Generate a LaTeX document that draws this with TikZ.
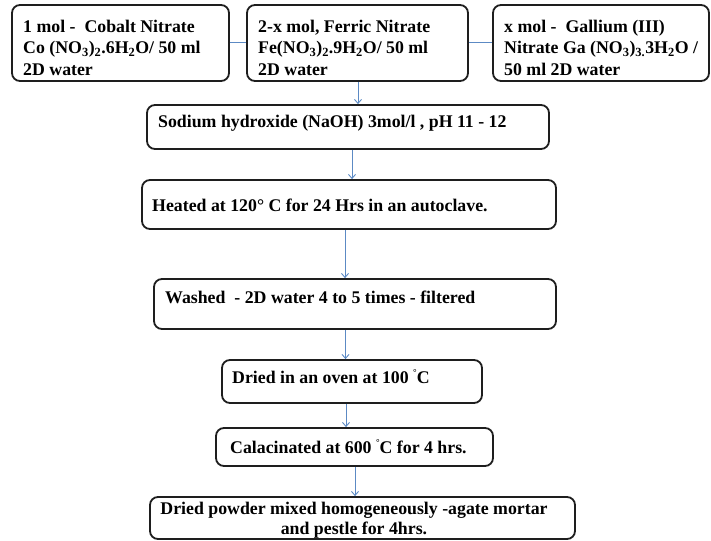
\documentclass[tikz,border=0pt]{standalone}
\usepackage{fontspec}
\setmainfont{Liberation Serif}
\usetikzlibrary{arrows.meta}
\definecolor{conn}{RGB}{92,138,196}
\definecolor{edge}{RGB}{30,30,30}
\newcommand{\smalldeg}{\raisebox{0.42em}{\fontsize{9}{9}\selectfont\textdegree}}
\begin{document}
\begin{tikzpicture}[x=1pt,y=-1pt,
  box/.style={draw=edge,line width=1.8pt,rounded corners=8pt,inner sep=0pt},
  txt/.style={inner sep=0pt,font=\fontsize{17.8}{21.5}\selectfont\bfseries,align=left},
  link/.style={draw=conn,line width=1pt},
  arr/.style={draw=conn,line width=1pt,-{Straight Barb[length=4pt,width=7pt,line width=0.9pt]}}]
\useasboundingbox (0,0) rectangle (711,540);
% boxes
\node[box,minimum width=217pt,minimum height=76pt] (b1) at (120.5,43) {};
\node[box,minimum width=221pt,minimum height=76pt] (b2) at (357.5,43) {};
\node[box,minimum width=216pt,minimum height=76pt] (b3) at (601,43) {};
\node[box,minimum width=402pt,minimum height=44pt] (b4) at (348,127) {};
\node[box,minimum width=414pt,minimum height=49pt] (b5) at (349,204.5) {};
\node[box,minimum width=402pt,minimum height=50pt] (b6) at (355,304) {};
\node[box,minimum width=260pt,minimum height=43pt] (b7) at (352,381.5) {};
\node[box,minimum width=277pt,minimum height=38pt] (b8) at (354.5,447) {};
\node[box,minimum width=425pt,minimum height=42pt] (b9) at (362.5,518) {};
% texts
\node[txt,anchor=north west] (t1) at (23,19.5)
  {1 mol -\ \ Cobalt Nitrate\\Co (NO\textsubscript{3})\textsubscript{2}.6H\textsubscript{2}O/ 50 ml\\2D water};
\node[txt,anchor=north west] (t2) at (258,19.5)
  {2-x mol, Ferric Nitrate\\Fe(NO\textsubscript{3})\textsubscript{2}.9H\textsubscript{2}O/ 50 ml\\2D water};
\node[txt,anchor=north west] (t3) at (504,19.5)
  {x mol -\ \ Gallium (III)\\Nitrate Ga (NO\textsubscript{3})\textsubscript{3.}3H\textsubscript{2}O /\\50 ml 2D water};
\node[txt,anchor=base west] (t4) at (158,128)
  {Sodium hydroxide (NaOH) 3mol/l , pH 11 - 12};
\node[txt,anchor=base west] (t5) at (152,211)
  {Heated at 120° C for 24 Hrs in an autoclave.};
\node[txt,anchor=base west] (t6) at (165,303)
  {Washed\ \ - 2D water 4 to 5 times - filtered};
\node[txt,anchor=base west] (t7) at (232,383)
  {Dried in an oven at 100 \smalldeg C};
\node[txt,anchor=base west] (t8) at (230,453)
  {Calacinated at 600 \smalldeg C for 4 hrs.};
\node[txt,align=center,font=\fontsize{17.8}{19.5}\selectfont\bfseries] (t9) at (354,520)
  {Dried powder mixed homogeneously -agate mortar\\and pestle for 4hrs.};
% connectors
\draw[link] (b1.east) -- (b2.west);
\draw[link] (b2.east) -- (b3.west);
\draw[arr] (358,0 |- b2.south) -- (358,0 |- b4.north);
\draw[arr] (352,0 |- b4.south) -- (352,0 |- b5.north);
\draw[arr] (345,0 |- b5.south) -- (345,0 |- b6.north);
\draw[arr] (345.5,0 |- b6.south) -- (345.5,0 |- b7.north);
\draw[arr] (346,0 |- b7.south) -- (346,0 |- b8.north);
\draw[arr] (355,0 |- b8.south) -- (355,0 |- b9.north);
\end{tikzpicture}
\end{document}
